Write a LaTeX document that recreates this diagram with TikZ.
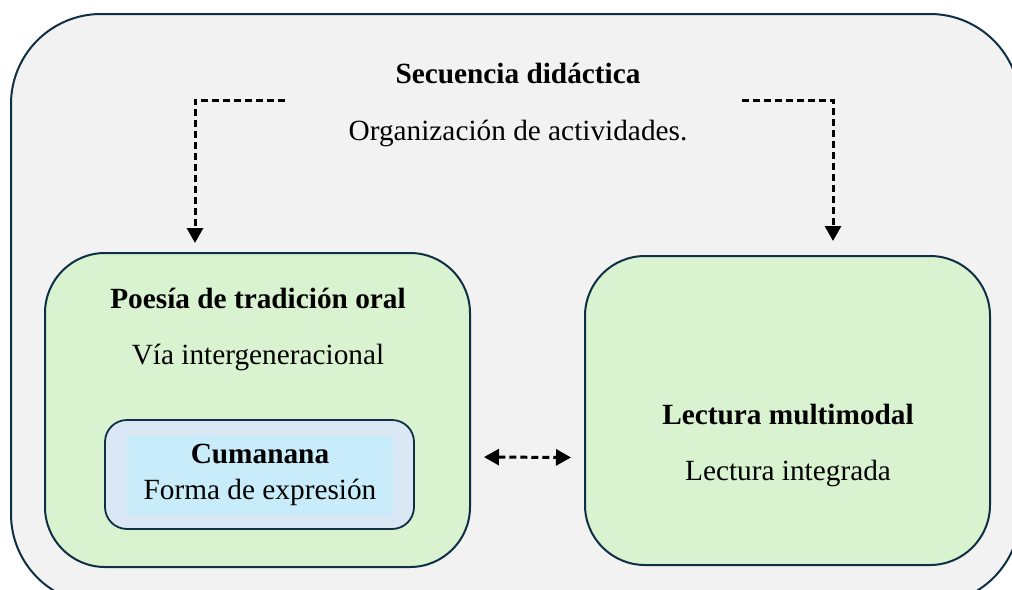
\documentclass[tikz,border=0pt]{standalone}
\usepackage{fontspec}
\setmainfont{Liberation Serif}
\usetikzlibrary{arrows.meta}
\definecolor{outerfill}{HTML}{F2F2F2}
\definecolor{edge}{HTML}{0E2F44}
\definecolor{greenfill}{HTML}{D9F2D0}
\definecolor{bluebox}{HTML}{DAE7F5}
\definecolor{blueinner}{HTML}{C8ECFA}
\begin{document}
\begin{tikzpicture}[x=1pt,y=-1pt,
  every node/.style={font=\fontsize{29.3}{35}\selectfont, inner sep=0pt},
  frame/.style={draw=edge, line width=2pt, rounded corners=#1},
  dasharrow/.style={line width=3pt, dash pattern=on 7pt off 4pt, -{Triangle[width=16pt,length=15pt]}},
  dasharrows/.style={line width=3pt, dash pattern=on 7pt off 4pt, {Triangle[width=16pt,length=15pt]}-{Triangle[width=16pt,length=15pt]}}
]
\useasboundingbox (0,0) rectangle (1012,589);
\clip (0,0) rectangle (1012,589);
\node[frame=90pt, fill=outerfill, minimum width=1009pt, minimum height=590pt] (outer) at (515.5,309) {};
\node[frame=60pt, fill=greenfill, minimum width=425pt, minimum height=314pt] (left) at (257.5,410) {};
\node[frame=60pt, fill=greenfill, minimum width=405pt, minimum height=309pt] (right) at (787.5,410.5) {};
\node[frame=22pt, line width=1.8pt, fill=bluebox, minimum width=309pt, minimum height=109pt] (cumbox) at (259.5,474.5) {};
\node[fill=blueinner, minimum width=266pt, minimum height=79pt] (cuminner) at (260,475.5) {};

\node[font=\fontsize{29.3}{35}\selectfont\bfseries] (t1) at (518,73) {Secuencia didáctica};
\node (t2) at (518,133) {Organización de actividades.};
\node[font=\fontsize{29.3}{35}\selectfont\bfseries] (t3) at (258,298) {Poesía de tradición oral};
\node (t4) at (258,357) {Vía intergeneracional};
\node[font=\fontsize{29.3}{35}\selectfont\bfseries] (t5) at (260,454) {Cumanana};
\node (t6) at (260,492) {Forma de expresión};
\node[font=\fontsize{29.3}{35}\selectfont\bfseries] (t7) at (788,415) {Lectura multimodal};
\node (t8) at (788,473) {Lectura integrada};

\coordinate (l1) at (285,100);
\coordinate (l2) at (195,100);
\coordinate (l3) at (195,243);
\coordinate (r1) at (742,100);
\coordinate (r2) at (833,100);
\coordinate (r3) at (833,241);
\draw[dasharrow] (l1) -- (l2) -- (l3);
\draw[dasharrow] (r1) -- (r2) -- (r3);
\draw[dasharrows, shorten <=13pt, shorten >=13pt] ([yshift=-47pt]left.east) -- ([yshift=-47pt]right.west);
\end{tikzpicture}
\end{document}
